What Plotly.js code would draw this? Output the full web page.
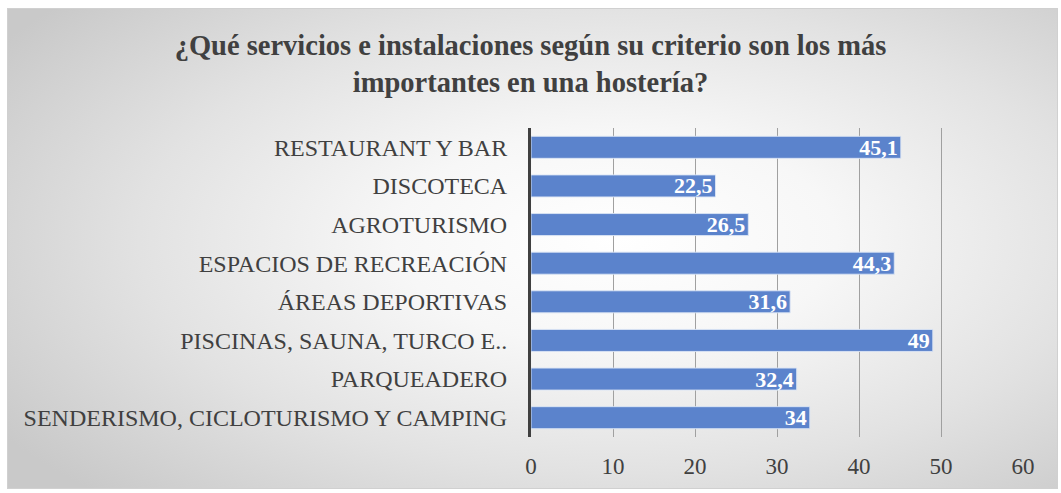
<!DOCTYPE html>
<html>
<head>
<meta charset="utf-8">
<script src="https://cdn.plot.ly/plotly-3.0.1.min.js"></script>
<style>
html,body{margin:0;padding:0;background:#fff;}
#wrap{position:absolute;left:7px;top:8px;width:1049px;height:479px;border:1px solid #d0d0d0;
background:radial-gradient(ellipse 70% 75% at 58% 48%, #ffffff 0%, #f7f7f7 30%, #e2e2e2 65%, #c9c9c9 100%);}
#chart{position:absolute;left:0;top:0;width:1061px;height:493px;}
</style>
</head>
<body>
<div id="wrap"></div>
<div id="chart"></div>
<script>
const categories = [
  "RESTAURANT Y BAR",
  "DISCOTECA",
  "AGROTURISMO",
  "ESPACIOS DE RECREACIÓN",
  "ÁREAS DEPORTIVAS",
  "PISCINAS, SAUNA, TURCO E..",
  "PARQUEADERO",
  "SENDERISMO, CICLOTURISMO Y CAMPING"
];
const values = [45.1, 22.5, 26.5, 44.3, 31.6, 49, 32.4, 34];
const tickVals = [0, 10, 20, 30, 40, 50, 60];
const labels = values.map(v => String(v).replace('.', ','));

const trace = {
  type: 'bar',
  orientation: 'h',
  y: categories,
  x: values,
  text: labels,
  textposition: 'inside',
  insidetextanchor: 'end',
  constraintext: 'none',
  textangle: 0,
  textfont: {family: 'Liberation Serif', size: 22, color: '#ffffff', weight: 'bold'},
  marker: {color: '#5b83cc', line: {color: 'rgba(220,230,245,0.9)', width: 1}},
  width: 0.57,
  hoverinfo: 'none',
  cliponaxis: false
};

const layout = {
  width: 1061, height: 493,
  margin: {l: 531, r: 38, t: 128, b: 56},
  paper_bgcolor: 'rgba(0,0,0,0)',
  plot_bgcolor: 'rgba(0,0,0,0)',
  showlegend: false,
  title: {
    text: '¿Qué servicios e instalaciones según su criterio son los más<br>importantes en una hostería?',
    font: {family: 'Liberation Serif', size: 28.5, color: '#404040', weight: 'bold'},
    x: 0.5, xanchor: 'center', xref: 'container',
    y: 1 - 55/493, yanchor: 'top', yref: 'container'
  },
  xaxis: {
    range: [0, 60], tickvals: tickVals, ticktext: tickVals.map(String),
    showgrid: true, gridcolor: '#a0a0a0', gridwidth: 1,
    zeroline: false, showline: false, ticks: '',
    ticklabelstandoff: 13,
    tickfont: {family: 'Liberation Serif', size: 23, color: '#404040'},
    fixedrange: true
  },
  yaxis: {
    categoryorder: 'array', categoryarray: categories.slice().reverse(),
    autorange: false, range: [-0.5, 7.5],
    showline: true, linecolor: '#404040', linewidth: 3,
    showgrid: false, zeroline: false, ticks: '',
    ticklabelstandoff: 16,
    tickfont: {family: 'Liberation Serif', size: 24, color: '#404040'},
    fixedrange: true
  },
  font: {family: 'Liberation Serif', color: '#404040'}
};

Plotly.newPlot('chart', [trace], layout, {displayModeBar: false, staticPlot: true});
</script>
</body>
</html>
